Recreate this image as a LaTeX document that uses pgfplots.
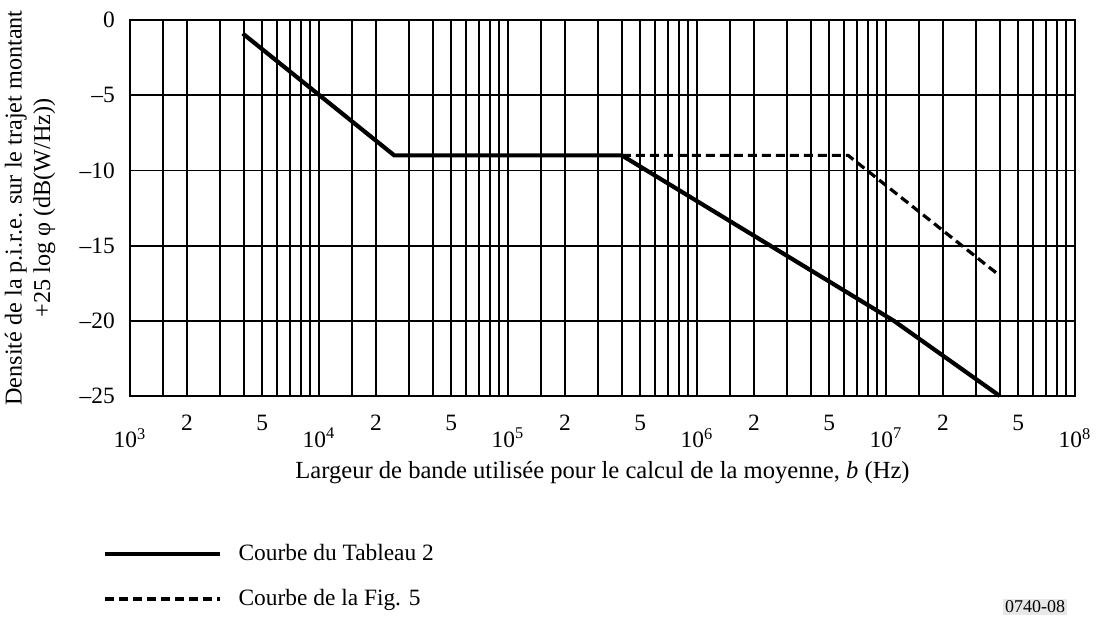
\documentclass[border=0pt]{standalone}
\usepackage{fontspec}
\setmainfont{Liberation Serif}
\usepackage{pgfplots}
\pgfplotsset{compat=1.18}
\begin{document}
\fontsize{11.7}{14}\selectfont
\begin{tikzpicture}
\useasboundingbox (0,0) rectangle (549pt,308.5pt);
\begin{axis}[
  at={(65pt,110.5pt)}, anchor=south west,
  width=472.5pt, height=188pt, scale only axis,
  clip=false,
  xmode=log, log basis x=10,
  xmin=1e3, xmax=1e8, ymin=-25, ymax=0,
  xtick={1e3,1e4,1e5,1e6,1e7,1e8},
  xticklabels={10\textsuperscript{3},10\textsuperscript{4},10\textsuperscript{5},10\textsuperscript{6},10\textsuperscript{7},10\textsuperscript{8}},
  minor xtick={1500,2000,3000,4000,5000,6000,7000,8000,9000,
    15000,20000,30000,40000,50000,60000,70000,80000,90000,
    150000,200000,300000,400000,500000,600000,700000,800000,900000,
    1500000,2000000,3000000,4000000,5000000,6000000,7000000,8000000,9000000,
    15000000,20000000,30000000,40000000,50000000,60000000,70000000,80000000,90000000},
  extra x ticks={2e3,5e3,2e4,5e4,2e5,5e5,2e6,5e6,2e7,5e7},
  extra x tick labels={2,5,2,5,2,5,2,5,2,5},
  extra x tick style={grid=none, xticklabel style={yshift=6.5pt}},
  ytick={-25,-20,-15,-10,-5,0},
  yticklabels={--25,--20,--15,--10,--5,0},
  grid=both,
  major grid style={black, line width=0.9pt},
  minor grid style={black, line width=0.9pt},
  axis line style={line width=0.9pt},
  major tick length=0pt, minor tick length=0pt,
  xticklabel style={yshift=-12pt},
  yticklabel style={xshift=-3.5pt},
  xlabel={Largeur de bande utilisée pour le calcul de la moyenne, \textit{b} (Hz)},
  xlabel style={at={(axis description cs:0.5,-0.2048)}, anchor=center, font=\fontsize{12.3}{14}\selectfont},
  ylabel={Densité de la p.i.r.e. sur le trajet montant\\+25 log φ (dB(W/Hz))},
  ylabel style={at={(axis description cs:-0.1058,0.5)}, anchor=center, align=center, font=\fontsize{12.1}{14.2}\selectfont},
  legend style={at={(axis description cs:-0.0286,-0.383)}, anchor=north west,
    draw=none, fill=none, inner sep=0pt, row sep=8.5pt,
    nodes={inner sep=2pt}},
  legend cell align=left,
  legend image code/.code={\draw[#1] (0pt,0pt) -- (57.5pt,0pt);},
]
\addplot[black, line width=2.1pt] coordinates {
  (3950,-0.9) (25000,-9) (400000,-9) (11000000,-20) (40000000,-25)};
\addlegendentry{\hspace{6pt}Courbe du Tableau 2}
\addplot[black, line width=1.6pt, dash pattern=on 4.5pt off 2.5pt] coordinates {
  (400000,-9) (6300000,-9) (40000000,-17)};
\addlegendentry{\hspace{6pt}Courbe de la Fig. 5}
\node[fill=gray!18, inner sep=1pt, font=\fontsize{9}{10}\selectfont, anchor=center]
  at (axis description cs:0.9577,-0.561) {0740-08};
\end{axis}
\end{tikzpicture}
\end{document}
